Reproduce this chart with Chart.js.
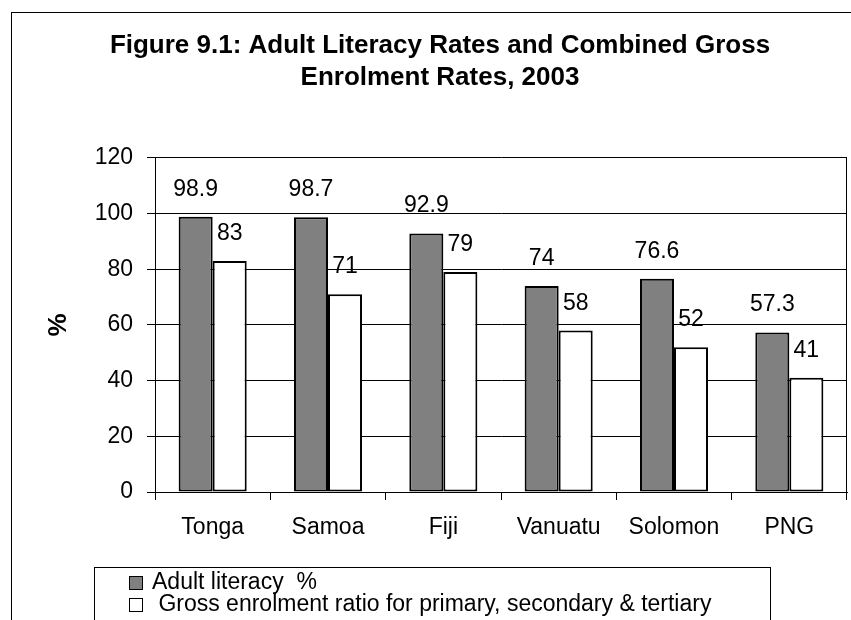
<!DOCTYPE html>
<html>
<head>
<meta charset="utf-8">
<title>Figure 9.1</title>
<script src="https://cdn.jsdelivr.net/npm/chart.js@4.4.1/dist/chart.umd.min.js"></script>
<style>
  html, body { margin: 0; padding: 0; background: #fff; overflow: hidden; }
</style>
</head>
<body>
<canvas id="grafico" width="851" height="620"></canvas>
<script>
// Data
const paises = ['Tonga', 'Samoa', 'Fiji', 'Vanuatu', 'Solomon', 'PNG'];
const alfabetizacion = [98.9, 98.7, 92.9, 74, 76.6, 57.3];
const matriculacion = [83, 71, 79, 58, 52, 41];
const ticksY = [0, 20, 40, 60, 80, 100, 120];
const nombresSeries = ['Adult literacy  %', ' Gross enrolment ratio for primary, secondary & tertiary'];

const fuente = '"Liberation Sans", Arial, sans-serif';

// Frame, value labels, right border and the boxed legend
const extras = {
    id: 'extras',
    beforeDraw(chart) {
        const ctx = chart.ctx;
        ctx.save();
        ctx.fillStyle = '#fff';
        ctx.fillRect(0, 0, chart.width, chart.height);
        ctx.strokeStyle = '#000';
        ctx.lineWidth = 1;
        ctx.strokeRect(11.5, 12.5, chart.width + 20, chart.height + 20);
        ctx.restore();
    },
    afterDatasetsDraw(chart) {
        const ctx = chart.ctx;
        const area = chart.chartArea;
        ctx.save();
        // right edge of the plot area
        ctx.strokeStyle = '#000';
        ctx.lineWidth = 1;
        ctx.beginPath();
        ctx.moveTo(Math.round(area.right) - 0.5, area.top);
        ctx.lineTo(Math.round(area.right) - 0.5, area.bottom);
        ctx.stroke();

        // values above the bars
        ctx.font = '23px ' + fuente;
        ctx.fillStyle = '#000';
        ctx.textAlign = 'center';
        ctx.textBaseline = 'alphabetic';
        chart.data.datasets.forEach((ds, i) => {
            chart.getDatasetMeta(i).data.forEach((bar, j) => {
                ctx.fillText(String(ds.data[j]), bar.x, bar.y - 21);
            });
        });
        ctx.restore();
    },
    afterDraw(chart) {
        const ctx = chart.ctx;
        ctx.save();
        ctx.strokeStyle = '#000';
        ctx.lineWidth = 1;
        ctx.strokeRect(94.5, 567.5, 676, 100);

        ctx.font = '23px ' + fuente;
        ctx.textAlign = 'left';
        ctx.textBaseline = 'middle';
        chart.data.datasets.forEach((ds, i) => {
            const cy = 583 + i * 22;
            ctx.fillStyle = ds.backgroundColor;
            ctx.fillRect(129.5, cy - 6.5, 13, 13);
            ctx.strokeRect(129.5, cy - 6.5, 13, 13);
            ctx.fillStyle = '#000';
            ctx.fillText(ds.label, 152, cy);
        });
        ctx.restore();
    }
};

const ctx = document.getElementById('grafico').getContext('2d');

new Chart(ctx, {
    type: 'bar',
    data: {
        labels: paises,
        datasets: [{
            label: nombresSeries[0],
            data: alfabetizacion,
            backgroundColor: '#808080',
            borderColor: '#000',
            borderWidth: 2,
            borderSkipped: false
        }, {
            label: nombresSeries[1],
            data: matriculacion,
            backgroundColor: '#ffffff',
            borderColor: '#000',
            borderWidth: 2,
            borderSkipped: false
        }]
    },
    options: {
        responsive: false,
        animation: false,
        devicePixelRatio: 1,
        layout: {
            padding: { left: 33, right: 4, top: 0, bottom: 80 }
        },
        datasets: {
            bar: { categoryPercentage: 0.59, barPercentage: 1.0 }
        },
        scales: {
            x: {
                offset: true,
                grid: {
                    offset: true,
                    drawOnChartArea: false,
                    tickLength: 8,
                    color: '#000'
                },
                border: { display: true, color: '#000', width: 1 },
                ticks: {
                    color: '#000',
                    padding: 14,
                    font: { family: fuente, size: 23 }
                },
                afterFit: scale => { scale.height = 48; }
            },
            y: {
                min: 0,
                max: 120,
                afterBuildTicks: scale => {
                    scale.ticks = ticksY.map(v => ({ value: v }));
                },
                grid: {
                    color: '#000',
                    lineWidth: 1,
                    tickLength: 8
                },
                border: { display: true, color: '#000', width: 1 },
                ticks: {
                    color: '#000',
                    padding: 14,
                    font: { family: fuente, size: 23 }
                },
                title: {
                    display: true,
                    text: '%',
                    color: '#000',
                    padding: { top: 10, bottom: 0 },
                    font: { family: fuente, size: 26, weight: 'bold' }
                },
                afterFit: scale => { scale.width = 122; }
            }
        },
        plugins: {
            legend: { display: false },
            tooltip: { enabled: false },
            title: {
                display: true,
                text: ['Figure 9.1: Adult Literacy Rates and Combined Gross', 'Enrolment Rates, 2003'],
                color: '#000',
                padding: { top: 30, bottom: 64 },
                font: { family: fuente, size: 26, weight: 'bold', lineHeight: 1.23 }
            }
        }
    },
    plugins: [extras]
});
</script>
</body>
</html>
